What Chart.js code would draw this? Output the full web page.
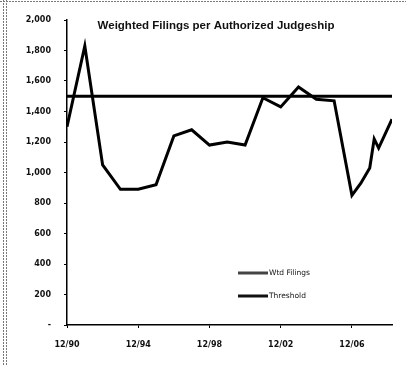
<!DOCTYPE html>
<html>
<head>
<meta charset="utf-8">
<script src="https://cdn.jsdelivr.net/npm/chart.js@4"></script>
<style>
  html, body { margin: 0; padding: 0; background: #fff; }
  #wrap { width: 406px; height: 365px; position: relative; }
</style>
</head>
<body>
<div id="wrap"><canvas id="c" width="406" height="365"></canvas></div>
<script>
// years elapsed since 12/90
const timePoints = [0, 1, 2, 3, 4, 5, 6, 7, 8, 9, 10, 11, 12, 13, 14, 15, 16, 16.5, 17, 17.25, 17.5, 18.25];
const wtdFilings = [1300, 1830, 1050, 890, 890, 920, 1240, 1280, 1180, 1200, 1180, 1490, 1430, 1560, 1480, 1470, 850, 930, 1030, 1220, 1160, 1350];
const thresholdValue = 1500;
const xTickLabels = ['12/90', '12/94', '12/98', '12/02', '12/06'];
const seriesNames = ['Wtd Filings', 'Threshold'];
const chartTitle = 'Weighted Filings per Authorized Judgeship';

const xStart = timePoints[0];
const xEnd = timePoints[timePoints.length - 1];

const filingsData = timePoints.map((t, i) => ({ x: t, y: wtdFilings[i] }));
const thresholdData = [{ x: xStart, y: thresholdValue }, { x: xEnd, y: thresholdValue }];

const decorPlugin = {
  id: 'decor',
  beforeDraw(chart) {
    const ctx = chart.ctx;
    ctx.save();
    ctx.fillStyle = '#fff';
    ctx.fillRect(0, 0, chart.width, chart.height);
    ctx.strokeStyle = '#777';
    ctx.lineWidth = 1;
    ctx.setLineDash([2, 1]);
    ctx.beginPath();
    ctx.moveTo(3.5, 0); ctx.lineTo(3.5, chart.height);
    ctx.moveTo(6.5, 0); ctx.lineTo(6.5, chart.height);
    ctx.moveTo(0, 1.5); ctx.lineTo(chart.width, 1.5);
    ctx.stroke();
    ctx.restore();
  },
  afterDraw(chart) {
    const ctx = chart.ctx;
    ctx.save();
    // title
    ctx.fillStyle = '#111';
    ctx.font = 'bold 11.5px "Liberation Sans", Arial, sans-serif';
    ctx.textAlign = 'center';
    ctx.textBaseline = 'middle';
    ctx.fillText(chartTitle, 216, 26);
    // legend
    const items = [
      { label: seriesNames[0], y: 273, color: '#444' },
      { label: seriesNames[1], y: 296, color: '#111' }
    ];
    ctx.font = '7.5px "DejaVu Sans", sans-serif';
    ctx.textAlign = 'left';
    items.forEach(it => {
      ctx.strokeStyle = it.color;
      ctx.lineWidth = 3;
      ctx.beginPath();
      ctx.moveTo(238, it.y);
      ctx.lineTo(268, it.y);
      ctx.stroke();
      ctx.fillStyle = '#111';
      ctx.fillText(it.label, 269, it.y);
    });
    ctx.restore();
  }
};

new Chart(document.getElementById('c'), {
  type: 'line',
  data: {
    datasets: [
      {
        label: seriesNames[0],
        data: filingsData,
        borderColor: '#000',
        borderWidth: 3,
        pointRadius: 0,
        tension: 0,
        fill: false
      },
      {
        label: seriesNames[1],
        data: thresholdData,
        borderColor: '#000',
        borderWidth: 3,
        pointRadius: 0,
        tension: 0,
        fill: false
      }
    ]
  },
  options: {
    responsive: false,
    animation: false,
    devicePixelRatio: 1,
    layout: { padding: { left: 0, right: 14, top: 20, bottom: 0 } },
    plugins: {
      legend: { display: false },
      title: { display: false },
      tooltip: { enabled: false }
    },
    scales: {
      x: {
        type: 'linear',
        min: xStart,
        max: xEnd,
        grid: { drawOnChartArea: false, drawTicks: true, tickLength: 3, color: '#000' },
        border: { display: true, color: '#000', width: 1.5 },
        ticks: {
          stepSize: 4,
          includeBounds: false,
          autoSkip: false,
          maxRotation: 0,
          padding: 12,
          color: '#111',
          font: { family: '"DejaVu Sans", sans-serif', size: 8, weight: 'bold' },
          callback: (v) => {
            const idx = Math.round(v / 4);
            return (Math.abs(v - idx * 4) < 1e-6 && xTickLabels[idx]) ? xTickLabels[idx] : '';
          }
        },
        afterFit: (s) => { s.height = 40; }
      },
      y: {
        min: 0,
        max: 2000,
        grid: { drawOnChartArea: false, drawTicks: true, tickLength: 3, color: '#000' },
        border: { display: true, color: '#000', width: 1.5 },
        ticks: {
          stepSize: 200,
          padding: 13,
          color: '#111',
          font: { family: '"DejaVu Sans", sans-serif', size: 8, weight: 'bold' },
          callback: (v) => v === 0 ? '-' : v.toLocaleString('en-US')
        },
        afterFit: (s) => { s.width = 67; }
      }
    }
  },
  plugins: [decorPlugin]
});
</script>
</body>
</html>
